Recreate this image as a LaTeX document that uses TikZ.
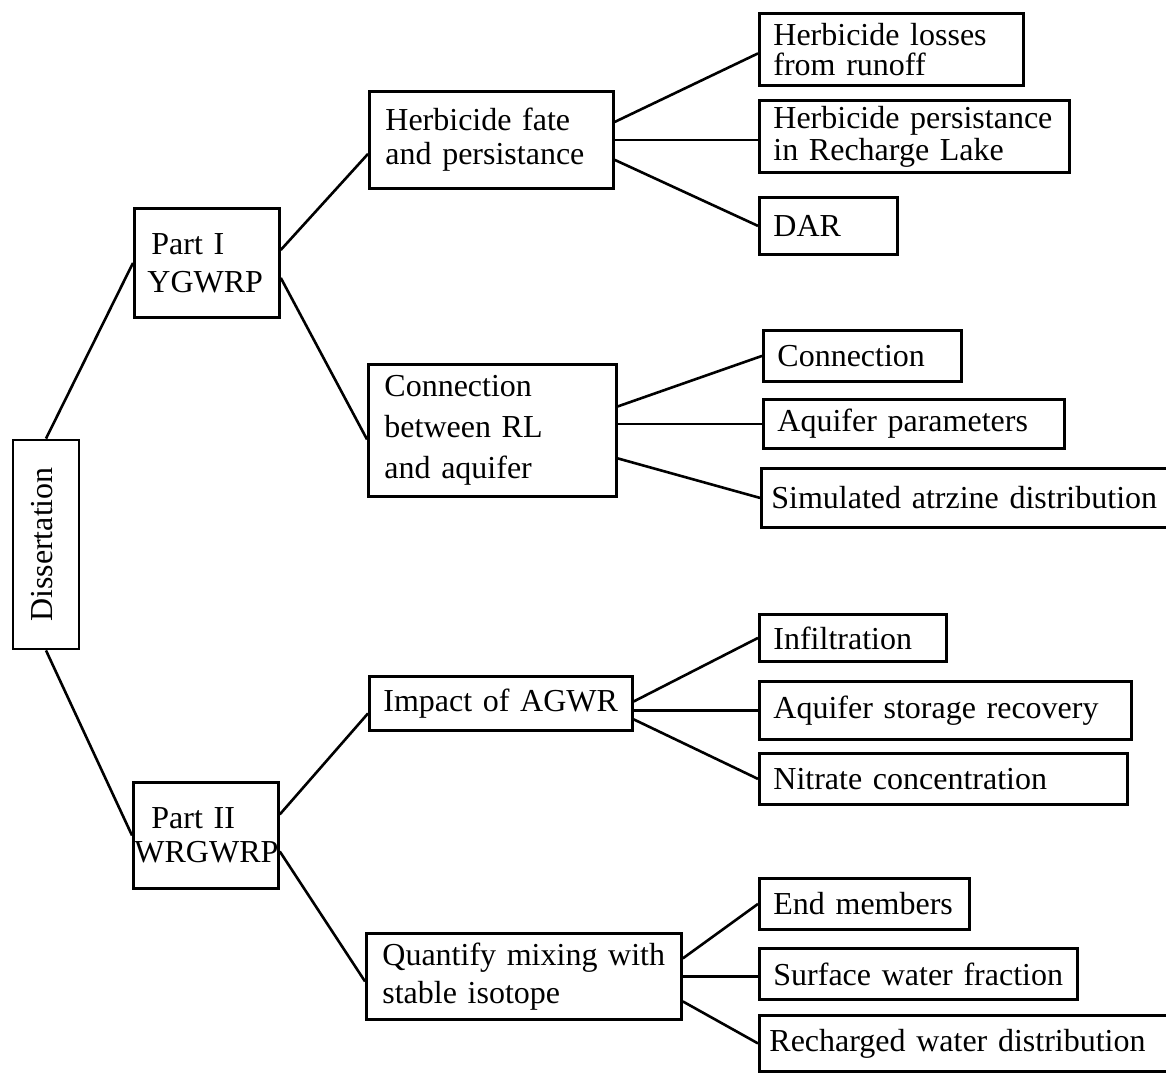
\documentclass[tikz,border=0pt]{standalone}
\usepackage{fontspec}
\setmainfont{Liberation Serif}
\begin{document}
\begin{tikzpicture}[
    x=1pt, y=-1pt,
    box/.style = {draw, line width=2.8pt, inner xsep=14pt, inner ysep=0pt,
                  anchor=north west, align=left, font=\fontsize{32}{34}\selectfont},
    link/.style = {line width=2.6pt}
  ]
  \useasboundingbox (0,0) rectangle (1166,1072);

  \node[draw, line width=2.8pt, inner sep=0pt, rotate=90, minimum width=209pt,
        minimum height=66pt, text depth=9pt, font=\fontsize{32}{34}\selectfont]
        (diss) at (46,544.5) {Dissertation};

  \node[box, inner xsep=13pt, text width=119pt, minimum height=109pt,
        font=\fontsize{32}{38}\selectfont] (p1) at (133,207) {\hspace*{4pt}Part I\\YGWRP};
  \node[box, inner xsep=1pt, text width=143pt, minimum height=106pt] (p2) at (132,781)
        {\hspace*{17pt}Part II\\WRGWRP};

  \node[box, inner xsep=16pt, text width=212pt, minimum height=97pt] (hfp) at (368,90)
        {Herbicide fate\\and persistance};
  \node[box, inner xsep=16pt, text width=216pt, minimum height=132pt,
        font=\fontsize{32}{41}\selectfont] (crl) at (367,363)
        {Connection\\between RL\\and aquifer};
  \node[box, text width=235pt, minimum height=54pt] (agwr) at (368,675) {Impact of AGWR};
  \node[box, inner xsep=16pt, text width=283pt, minimum height=86pt,
        font=\fontsize{32}{38}\selectfont] (qmi) at (365,932)
        {Quantify mixing with\\stable isotope};

  \node[box, text width=236pt, minimum height=72pt, font=\fontsize{32}{30}\selectfont]
        (hlr) at (758,12) {Herbicide losses\\from runoff};
  \node[box, text width=282pt, minimum height=72pt, font=\fontsize{32}{32}\selectfont]
        (hprl) at (758,99) {Herbicide persistance\\in Recharge Lake};
  \node[box, text width=110pt, minimum height=57pt] (dar) at (758,196) {DAR};

  \node[box, text width=170pt, minimum height=51pt] (con) at (762,329) {Connection};
  \node[box, text width=273pt, minimum height=49pt] (aqp) at (762,398) {Aquifer parameters};
  \node[box, inner xsep=10pt, text width=386pt, minimum height=59pt] (sad) at (760,467)
        {\mbox{Simulated atrzine distribution}};

  \node[box, text width=159pt, minimum height=47pt] (inf) at (758,613) {Infiltration};
  \node[box, text width=344pt, minimum height=58pt] (asr) at (758,680) {Aquifer storage recovery};
  \node[box, text width=340pt, minimum height=51pt] (nc) at (758,752) {Nitrate concentration};

  \node[box, text width=182pt, minimum height=51pt] (em) at (758,877) {End members};
  \node[box, text width=290pt, minimum height=51pt] (swf) at (758,947) {Surface water fraction};
  \node[box, inner xsep=10pt, text width=388pt, minimum height=56pt] (rwd) at (758,1014)
        {\mbox{Recharged water distribution}};

  \draw[link] (diss.east) -- (p1.west);
  \draw[link] (diss.west) -- (p2.west);

  \draw[link] ([yshift=13pt]p1.east) -- ([yshift=-14pt]hfp.west);
  \draw[link] ([yshift=-15pt]p1.east) -- ([yshift=-9pt]crl.west);
  \draw[link] ([yshift=21pt]p2.east) -- ([yshift=-10pt]agwr.west);
  \draw[link] ([yshift=-16pt]p2.east) -- ([yshift=-5pt]qmi.west);

  \draw[link] ([yshift=18pt]hfp.east) -- ([yshift=-4pt]hlr.west);
  \draw[link] (hfp.east) -- (hfp.east -| hprl.west);
  \draw[link] ([yshift=-20pt]hfp.east) -- (dar.west);

  \draw[link] ([yshift=24pt]crl.east) -- (con.west);
  \draw[link] (crl.east |- aqp.west) -- (aqp.west);
  \draw[link] ([yshift=-28pt]crl.east) -- (sad.west);

  \draw[link] ([yshift=2pt]agwr.east) -- (inf.west);
  \draw[link] (agwr.east |- asr.west) -- (asr.west);
  \draw[link] ([yshift=-16pt]agwr.east) -- (nc.west);

  \draw[link] ([yshift=18pt]qmi.east) -- (em.west);
  \draw[link] (qmi.east) -- (qmi.east -| swf.west);
  \draw[link] ([yshift=-25pt]qmi.east) -- (rwd.west);
\end{tikzpicture}
\end{document}
